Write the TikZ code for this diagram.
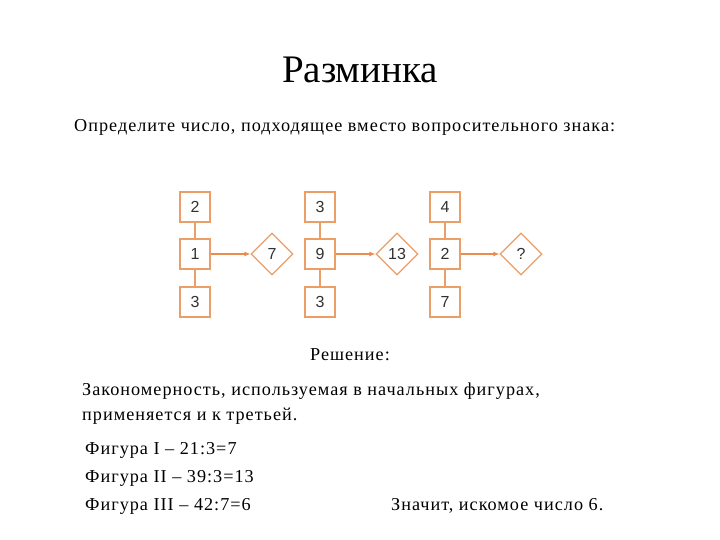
\documentclass[tikz,border=0pt]{standalone}
\usepackage{fontspec}
\setmainfont{Liberation Serif}
\newfontfamily\bodyfont[LetterSpace=5.5]{Liberation Serif}
\newfontfamily\figsans{Liberation Sans}
\usetikzlibrary{shapes.geometric,arrows.meta}
\definecolor{edgeor}{RGB}{236,158,105}
\definecolor{arror}{RGB}{232,140,80}
\definecolor{numgray}{RGB}{50,50,50}
\tikzset{
  numbox/.style={draw=edgeor,line width=1.2pt,minimum width=30pt,minimum height=30pt,inner sep=0pt,font=\figsans\fontsize{16}{16}\selectfont,text=numgray,fill=white},
  numdia/.style={draw=edgeor,line width=1.2pt,diamond,minimum width=42pt,minimum height=42pt,inner sep=0pt,font=\figsans\fontsize{16}{16}\selectfont,text=numgray,fill=white},
  link/.style={draw=edgeor,line width=1.2pt},
  arr/.style={draw=arror,line width=1.1pt,-{Latex[length=6pt,width=5pt]}},
  txt/.style={anchor=base west,inner sep=0pt,font=\bodyfont\fontsize{18.2}{18.2}\selectfont},
}
\begin{document}
\begin{tikzpicture}[x=1pt,y=-1pt]
\useasboundingbox (0,0) rectangle (720,540);
% title and task
\node[anchor=base,inner sep=0pt,font=\fontsize{39}{39}\selectfont] (title) at (360,83) {Разминка};
\node[txt] (task) at (74,132) {Определите число, подходящее вместо вопросительного знака:};
% figure I
\node[numbox] (a1) at (195,207) {2};
\node[numbox] (a2) at (195,254) {1};
\node[numbox] (a3) at (195,302) {3};
\node[numdia] (d1) at (272,254) {7};
% figure II
\node[numbox] (b1) at (320,207) {3};
\node[numbox] (b2) at (320,254) {9};
\node[numbox] (b3) at (320,302) {3};
\node[numdia] (d2) at (397,254) {13};
% figure III
\node[numbox] (c1) at (445,207) {4};
\node[numbox] (c2) at (445,254) {2};
\node[numbox] (c3) at (445,302) {7};
\node[numdia] (d3) at (521,254) {?};
\foreach \p in {a,b,c}{
  \draw[link] (\p1) -- (\p2);
  \draw[link] (\p2) -- (\p3);
}
\draw[arr] (a2) -- (d1);
\draw[arr] (b2) -- (d2);
\draw[arr] (c2) -- (d3);
% solution
\node[txt] (sol) at (310,360) {Решение:};
\node[txt] (l1) at (82,395) {Закономерность, используемая в начальных фигурах,};
\node[txt] (l2) at (82,420) {применяется и к третьей.};
\node[txt] (l3) at (85,454) {Фигура I – 21:3=7};
\node[txt] (l4) at (85,482) {Фигура II – 39:3=13};
\node[txt] (l5) at (85,510) {Фигура III – 42:7=6};
\node[txt] (l6) at (391,510) {Значит, искомое число 6.};
\end{tikzpicture}
\end{document}
